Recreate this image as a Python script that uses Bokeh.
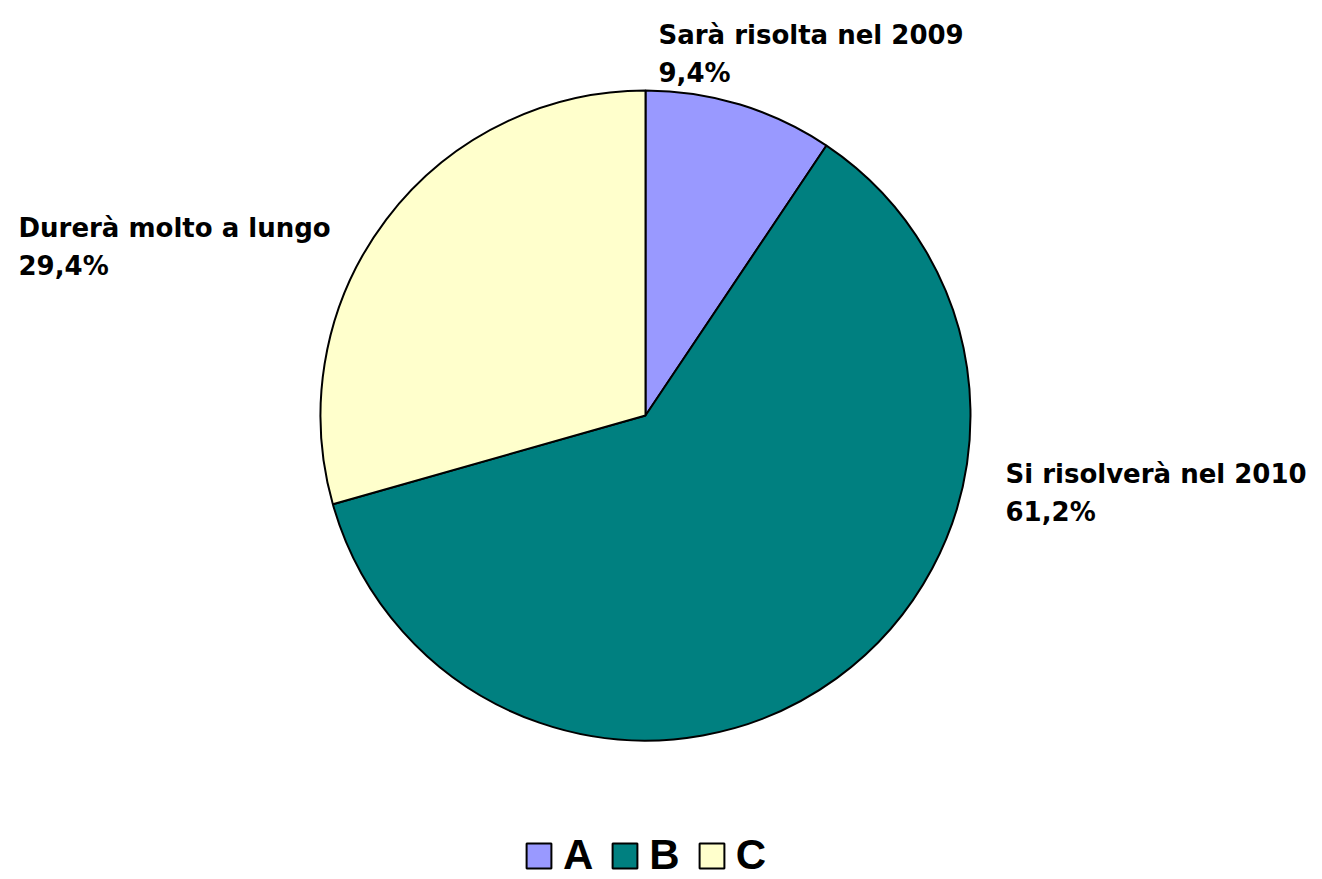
import math
from bokeh.plotting import figure
from bokeh.models import Range1d, Legend, LegendItem
from bokeh.core.properties import value
from bokeh.embed import file_html
from bokeh.resources import INLINE

# ---- data ----
categories = ["A", "B", "C"]
descriptions = ["Sarà risolta nel 2009", "Si risolverà nel 2010", "Durerà molto a lungo"]
shares = [9.4, 61.2, 29.4]
colors = ["#9999FF", "#008080", "#FFFFCC"]

W, H = 1322, 879
LABEL_FONT = "DejaVu Sans"
LEGEND_FONT = "Liberation Sans"

p = figure(width=W, height=H, x_range=Range1d(0, W), y_range=Range1d(0, H),
           output_backend="svg", toolbar_location=None, min_border=0,
           x_axis_location=None, y_axis_location=None, outline_line_color=None)
p.grid.visible = False

cx, cy, r = 645, 464, 325
total = sum(shares)
starts, ends = [], []
acc = 0.0
for s in shares:
    a0 = math.pi / 2 - 2 * math.pi * acc / total
    acc += s
    a1 = math.pi / 2 - 2 * math.pi * acc / total
    starts.append(a0)
    ends.append(a1)

renderers = []
for i in range(len(categories)):
    rr = p.wedge(x=cx, y=cy, radius=r, start_angle=starts[i], end_angle=ends[i],
                 direction="clock", fill_color=colors[i], line_color="black", line_width=2)
    renderers.append(rr)

# labels: (left x, baseline y of first line) in page pixels from top-left
label_pos = [(658, 34), (1005, 473), (18, 227)]
line_gap = 38
pct = [f"{v:.1f}".replace(".", ",") + "%" for v in shares]
lx = [pp[0] for pp in label_pos]
ly1 = [H - pp[1] for pp in label_pos]
ly2 = [H - pp[1] - line_gap for pp in label_pos]
for ys, txt in ((ly1, descriptions), (ly2, pct)):
    p.text(x=lx, y=ys, text=txt, text_font=value(LABEL_FONT), text_font_style="bold",
           text_font_size="26px", text_baseline="alphabetic", text_align="left",
           text_color="black")

legend = Legend(items=[LegendItem(label=c, renderers=[rr]) for c, rr in zip(categories, renderers)],
                orientation="horizontal", location=(523, 0),
                glyph_width=31, glyph_height=31, label_standoff=9, spacing=16,
                padding=0, margin=0, border_line_color=None, background_fill_alpha=0,
                label_text_font=LEGEND_FONT, label_text_font_style="bold",
                label_text_font_size="42px", label_text_color="black")
p.add_layout(legend, "center")

open("out.html", "w").write(file_html(p, INLINE))
